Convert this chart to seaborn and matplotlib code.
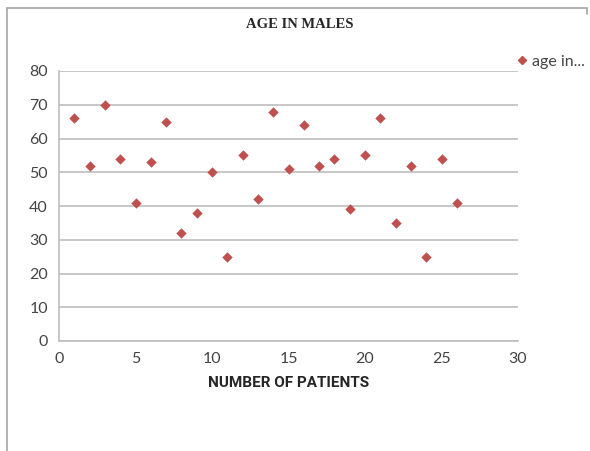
import pandas as pd
import matplotlib
matplotlib.use("Agg")
import matplotlib.pyplot as plt
import seaborn as sns
from matplotlib.lines import Line2D

# ===============================
# DATA
# ===============================
patients = list(range(1, 27))
ages = [66, 52, 70, 54, 41, 53, 65, 32, 38, 50, 25, 55, 42,
        68, 51, 64, 52, 54, 39, 55, 66, 35, 52, 25, 54, 41]
series_name = "age in..."
x_ticks = [0, 5, 10, 15, 20, 25, 30]
y_ticks = [0, 10, 20, 30, 40, 50, 60, 70, 80]

df = pd.DataFrame({"patient": patients, "age": ages})

sns.set_style("white")
plt.rcParams["font.family"] = ["Lato", "DejaVu Sans"]

W, H = 590, 451
fig = plt.figure(figsize=(W / 100, H / 100), dpi=100)
ax = fig.add_axes([59 / W, 1 - 341 / H, (518 - 59) / W, (341 - 71) / H])

red = "#C0504D"
grid = "#BDBDBD"
text_c = "#444444"

sns.scatterplot(data=df, x="patient", y="age", ax=ax, marker="D", s=28,
                color=red, edgecolor=red, linewidth=0, legend=False, zorder=3)

ax.set_xlim(0, 30)
ax.set_ylim(0, 80)
ax.set_xticks(x_ticks)
ax.set_yticks(y_ticks)
ax.yaxis.grid(True, color=grid, linewidth=1.2)
ax.set_axisbelow(True)
for side in ["top", "right"]:
    ax.spines[side].set_visible(False)
for side in ["left", "bottom"]:
    ax.spines[side].set_color(grid)
    ax.spines[side].set_linewidth(1.2)
ax.tick_params(axis="both", direction="out", length=5, width=1, color=grid,
               labelsize=11.5, labelcolor=text_c, pad=3)
ax.set_xlabel("NUMBER OF PATIENTS", fontsize=11, fontweight="bold",
              family=["Roboto", "DejaVu Sans"], color="#262626", labelpad=7)
ax.set_ylabel("")

fig.text(300 / W, 1 - 25 / H, "AGE IN MALES",
         ha="center", va="center", fontsize=10.5, fontweight="bold",
         family=["Liberation Serif", "DejaVu Serif"], color="#262626")

# legend
handle = Line2D([], [], marker="D", linestyle="", color=red, markersize=4.5)
fig.legend([handle], [series_name], loc="center left",
           bbox_to_anchor=(508 / W, 1 - 62 / H), frameon=False,
           fontsize=11.5, handletextpad=0.1, borderaxespad=0,
           labelcolor=text_c, handlelength=1.0)

# chart frame
frame_kw = dict(color="#A6A6A6", linewidth=1.2, transform=fig.transFigure)
fig.add_artist(Line2D([7 / W, 587 / W], [1 - 8 / H, 1 - 8 / H], **frame_kw))
fig.add_artist(Line2D([7 / W, 7 / W], [1 - 8 / H, 0], **frame_kw))
fig.add_artist(Line2D([587 / W, 587 / W], [1 - 8 / H, 1 - 14 / H], **frame_kw))

fig.savefig("out.png", dpi=100)
plt.close(fig)
